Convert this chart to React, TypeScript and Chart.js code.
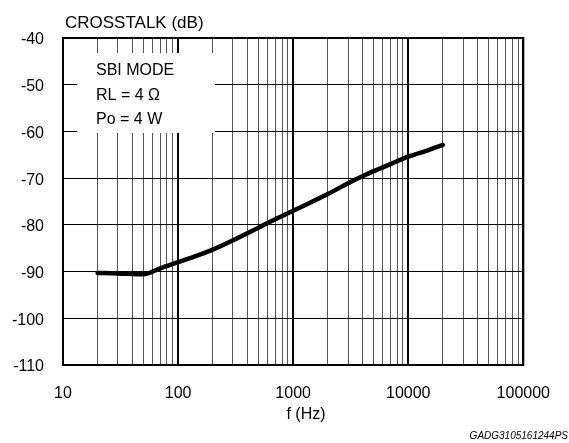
import React, { useEffect, useRef } from "react";
import { Chart, registerables } from "chart.js";

Chart.register(...registerables);

const freqs = [20, 30, 50, 70, 100, 150, 200, 300, 500, 700, 1000, 2000, 3000, 4000, 5000, 7000, 10000, 15000, 20000];
const crosstalk = [-90.3, -90.4, -90.6, -89.3, -88.0, -86.5, -85.3, -83.3, -80.6, -78.8, -77.0, -73.4, -71.1, -69.6, -68.5, -67.0, -65.4, -64.0, -62.9];
const xDecades = [10, 100, 1000, 10000, 100000];
const xMinorMultipliers = [2, 3, 4, 5, 6, 7, 8, 9];
const yTicks = [-110, -100, -90, -80, -70, -60, -50, -40];
const yTitle = "CROSSTALK (dB)";
const xTitle = "f (Hz)";
const legendLines = ["SBI MODE", "RL = 4 Ω", "Po = 4 W"];
const footer = "GADG3105161244PS";

const FONT = "'Liberation Sans', Arial, sans-serif";

const isDecade = (v: number) => Math.abs(Math.log10(v) - Math.round(Math.log10(v))) < 1e-9;

const decorPlugin = {
  id: "decor",
  beforeDatasetsDraw(chart: any) {
    const { ctx, chartArea } = chart;
    ctx.save();
    const bx = chartArea.left + 14;
    const by = chartArea.top + 15;
    ctx.fillStyle = "#ffffff";
    ctx.fillRect(bx, by, 138, 80);
    ctx.fillStyle = "#000";
    ctx.font = `16px ${FONT}`;
    ctx.textAlign = "left";
    ctx.textBaseline = "middle";
    legendLines.forEach((t, i) => {
      ctx.fillText(t, chartArea.left + 33, chartArea.top + 33 + i * 24.5);
    });
    ctx.strokeStyle = "#000";
    ctx.lineWidth = 2;
    ctx.strokeRect(chartArea.left, chartArea.top, chartArea.right - chartArea.left, chartArea.bottom - chartArea.top);
    ctx.restore();
  },
  afterDraw(chart: any) {
    const { ctx, chartArea } = chart;
    ctx.save();
    ctx.fillStyle = "#000";
    ctx.font = `17px ${FONT}`;
    ctx.textBaseline = "middle";
    ctx.textAlign = "left";
    ctx.fillText(yTitle, chartArea.left + 2, chartArea.top - 15);
    ctx.font = `16px ${FONT}`;
    ctx.textAlign = "center";
    ctx.fillText(xTitle, 306, chartArea.bottom + 50);
    ctx.font = `italic 10px ${FONT}`;
    ctx.textAlign = "right";
    ctx.textBaseline = "alphabetic";
    ctx.fillText(footer, chart.width - 1, chart.height - 4);
    ctx.restore();
  },
};

export default function App() {
  const canvasRef = useRef<HTMLCanvasElement | null>(null);

  useEffect(() => {
    document.body.style.margin = "0";
    const canvas = canvasRef.current;
    if (!canvas) return;
    const chart = new Chart(canvas, {
      type: "line",
      data: {
        datasets: [
          {
            data: freqs.map((f, i) => ({ x: f, y: crosstalk[i] })),
            borderColor: "#000",
            borderWidth: 4.5,
            pointRadius: 0,
            cubicInterpolationMode: "monotone",
            borderCapStyle: "round",
            borderJoinStyle: "round",
            fill: false,
          },
        ],
      },
      options: {
        animation: false,
        responsive: false,
        devicePixelRatio: 1,
        layout: { padding: { left: 0, right: 43, top: 38, bottom: 0 } },
        plugins: { legend: { display: false }, tooltip: { enabled: false } },
        scales: {
          x: {
            type: "logarithmic",
            min: xDecades[0],
            max: xDecades[xDecades.length - 1],
            afterBuildTicks(scale: any) {
              const ticks: any[] = [];
              xDecades.forEach((d, i) => {
                ticks.push({ value: d, major: true });
                if (i < xDecades.length - 1) xMinorMultipliers.forEach((m) => ticks.push({ value: d * m }));
              });
              scale.ticks = ticks;
            },
            afterFit(scale: any) {
              scale.height = 78;
            },
            ticks: {
              autoSkip: false,
              maxRotation: 0,
              padding: 19,
              color: "#000",
              font: { family: FONT, size: 16 },
              callback: (v: any) => (isDecade(Number(v)) ? String(Number(v)) : ""),
            },
            grid: {
              drawTicks: false,
              color: (c: any) => (c.tick && isDecade(c.tick.value) ? "#000" : "#555"),
              lineWidth: (c: any) => (c.tick && isDecade(c.tick.value) ? 2 : 1),
            },
            border: { display: true, color: "#000", width: 2 },
          },
          y: {
            type: "linear",
            min: yTicks[0],
            max: yTicks[yTicks.length - 1],
            afterBuildTicks(scale: any) {
              scale.ticks = yTicks.map((v) => ({ value: v }));
            },
            afterFit(scale: any) {
              scale.width = 63;
            },
            ticks: {
              padding: 19,
              color: "#000",
              labelOffset: 2,
              font: { family: FONT, size: 16 },
            },
            grid: { drawTicks: false, color: "#000", lineWidth: 1 },
            border: { display: true, color: "#000", width: 2 },
          },
        },
      },
      plugins: [decorPlugin],
    } as any);
    return () => chart.destroy();
  }, []);

  return (
    <div style={{ width: 569, height: 443 }}>
      <canvas ref={canvasRef} width={569} height={443} style={{ display: "block" }} />
    </div>
  );
}
